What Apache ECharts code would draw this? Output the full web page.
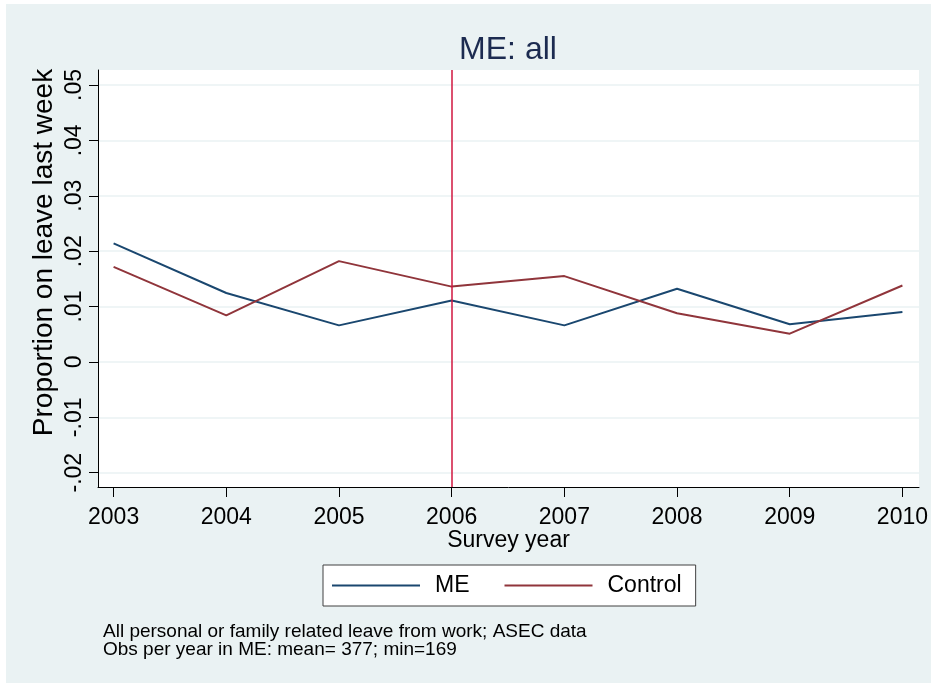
<!DOCTYPE html>
<html>
<head>
<meta charset="utf-8">
<script src="https://cdn.jsdelivr.net/npm/echarts@6/dist/echarts.min.js"></script>
<style>
    html, body { margin: 0; padding: 0; background: #fff; }
    #chart { width: 931px; height: 683px; }
</style>
</head>
<body>
<div id="chart"></div>
<script>
// survey years and the two series (proportion on leave last week)
const years = [2003, 2004, 2005, 2006, 2007, 2008, 2009, 2010]
const meValues = [0.0214, 0.01245, 0.0066, 0.0111, 0.0066, 0.0132, 0.0068, 0.0090]
const controlValues = [0.01715, 0.0084, 0.0182, 0.0136, 0.0155, 0.0088, 0.0051, 0.0138]
const policyYear = 2006
const yTicks = [-0.02, -0.01, 0, 0.01, 0.02, 0.03, 0.04, 0.05]

const font = "'Liberation Sans', Arial, sans-serif"
const bgColor = '#eaf2f3'

let chart = echarts.init(document.querySelector('#chart'))

// stata style tick labels: .05, 0, -.01
function stataLabel(v) {
    if (Math.abs(v) < 1e-9) return '0'
    return String(+v.toFixed(3)).replace('0.', '.')
}

function pairs(values) {
    return years.map((y, i) => [y, values[i]])
}

chart.setOption({
    backgroundColor: '#fff',
    animation: false,
    graphic: [{
        type: 'rect',
        z: -10,
        shape: {x: 6, y: 4, width: 925, height: 679},
        style: {fill: bgColor}
    }],
    title: [
        {
            text: 'ME: all',
            left: 503,
            top: 29,
            textAlign: 'center',
            textStyle: {fontFamily: font, fontSize: 32, fontWeight: 'normal', color: '#1c2b50'}
        },
        {
            text: 'All personal or family related leave from work; ASEC data\nObs per year in ME: mean= 377; min=169',
            left: 98,
            top: 618,
            textStyle: {fontFamily: font, fontSize: 19, fontWeight: 'normal', color: '#000', lineHeight: 18}
        }
    ],
    legend: {
        data: ['ME', 'Control'],
        icon: 'rect',
        left: 323,
        top: 565,
        padding: [9, 14, 9, 9],
        itemGap: 35,
        itemWidth: 88,
        itemHeight: 2,
        backgroundColor: '#fff',
        borderColor: '#404040',
        borderWidth: 1,
        borderRadius: 0,
        textStyle: {fontFamily: font, fontSize: 23, color: '#000', padding: [0, 0, 0, 10]}
    },
    grid: [
        // plot region (white background, axis lines)
        {left: 98, right: 12, top: 70, bottom: 196, show: true, backgroundColor: '#fff', borderWidth: 0},
        // y scale
        {left: 98, right: 12, top: 85, bottom: 210.3},
        // data
        {left: 113.6, right: 28, top: 85, bottom: 210.3}
    ],
    xAxis: [
        {
            gridIndex: 0, type: 'value', min: 2002.862, max: 2010.142,
            axisLine: {show: true, onZero: false, lineStyle: {color: '#000', width: 1}},
            axisTick: {show: false}, axisLabel: {show: false}, splitLine: {show: false},
            name: 'Survey year', nameLocation: 'middle', nameGap: 42,
            nameTextStyle: {fontFamily: font, fontSize: 23, color: '#000'}
        },
        {gridIndex: 1, type: 'value', show: false, min: 0, max: 1, axisLine: {onZero: false}},
        {
            gridIndex: 2, type: 'value', min: 2003, max: 2010, interval: 1,
            offset: 14.3,
            axisLine: {show: false, onZero: false},
            axisTick: {show: true, length: 10, lineStyle: {color: '#000'}},
            axisLabel: {fontFamily: font, fontSize: 23, color: '#000', margin: 19, formatter: v => String(v)},
            splitLine: {show: false}
        }
    ],
    yAxis: [
        {
            gridIndex: 0, type: 'value', min: 0, max: 1,
            axisLine: {show: true, onZero: false, lineStyle: {color: '#000', width: 1}},
            axisTick: {show: false}, axisLabel: {show: false}, splitLine: {show: false},
            name: 'Proportion on leave last week', nameLocation: 'middle', nameGap: 40, nameRotate: 90,
            nameTextStyle: {fontFamily: font, fontSize: 28, color: '#000', padding: [0, 0, 0, 52]}
        },
        {
            gridIndex: 1, type: 'value', min: yTicks[0], max: yTicks[yTicks.length - 1], interval: 0.01,
            axisLine: {show: false, onZero: false},
            axisTick: {show: true, length: 9, lineStyle: {color: '#000'}},
            axisLabel: {fontFamily: font, fontSize: 23, color: '#000', rotate: 90, margin: 12, formatter: stataLabel},
            splitLine: {show: true, lineStyle: {color: bgColor, width: 1.5}}
        },
        {gridIndex: 2, type: 'value', show: false, min: yTicks[0], max: yTicks[yTicks.length - 1]}
    ],
    series: [
        {
            name: 'policy',
            type: 'line',
            xAxisIndex: 0,
            yAxisIndex: 0,
            data: [],
            markLine: {
                silent: true,
                symbol: ['none', 'none'],
                label: {show: false},
                lineStyle: {color: '#d0163f', width: 1.5, type: 'solid'},
                data: [{xAxis: policyYear}]
            }
        },
        {
            name: 'ME',
            type: 'line',
            xAxisIndex: 2,
            yAxisIndex: 2,
            symbol: 'none',
            color: '#1a476f',
            lineStyle: {width: 2, color: '#1a476f'},
            data: pairs(meValues)
        },
        {
            name: 'Control',
            type: 'line',
            xAxisIndex: 2,
            yAxisIndex: 2,
            symbol: 'none',
            color: '#90353b',
            lineStyle: {width: 2, color: '#90353b'},
            data: pairs(controlValues)
        }
    ]
})
</script>
</body>
</html>
